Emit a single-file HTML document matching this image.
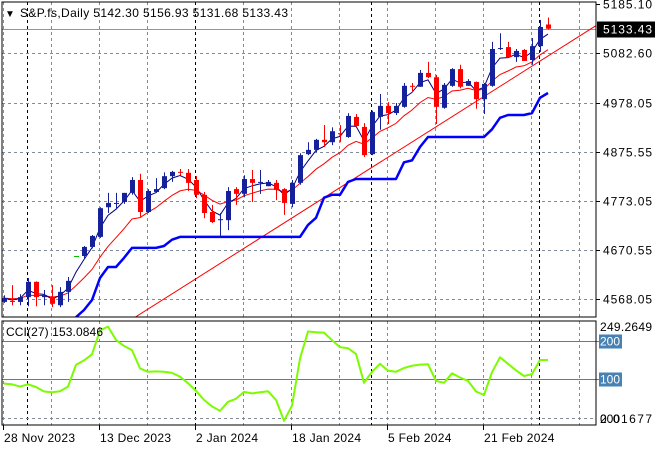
<!DOCTYPE html>
<html><head><meta charset="utf-8"><style>
html,body{margin:0;padding:0;background:#fff;}
svg{display:block;font-family:"Liberation Sans",sans-serif;font-size:12px;}
</style></head><body>
<svg id="chart" width="660" height="450" viewBox="0 0 660 450" xmlns="http://www.w3.org/2000/svg">
<rect x="0" y="0" width="660" height="450" fill="#fff"/>
<defs>
<clipPath id="mainClip"><rect x="2" y="2" width="594" height="315"/></clipPath>
<clipPath id="cciClip"><rect x="2" y="321" width="594" height="104"/></clipPath>
</defs>
<g id="grid"></g>
<g id="main" clip-path="url(#mainClip)"></g>
<g id="cci" clip-path="url(#cciClip)"></g>
<g id="axes"></g>
<rect x="2" y="2" width="594" height="315" fill="none" stroke="#000" stroke-width="1"/>
<rect x="2" y="321" width="594" height="104" fill="none" stroke="#000" stroke-width="1"/>
<text x="5" y="17" font-size="10">▼</text>
<text x="20" y="17" textLength="268" lengthAdjust="spacing">S&amp;P.fs,Daily  5142.30 5156.93 5131.68 5133.43</text>
<text x="6" y="336" textLength="97" lengthAdjust="spacing">CCI(27) 153.0846</text>
</svg>
<script>
const opens  = [4562,4564,4562,4572,4604,4572,4572,4555,4583,4658,4658,4677,4698,4760,4767,4771,4790,4817,4750,4792,4800,4825,4834,4832,4817,4786,4750,4733,4733,4798,4788,4819,4811,4804,4811,4798,4767,4811,4871,4880,4901,4896,4915,4907,4949,4928,4871,4949,4972,4957,4970,5014,5012,5041,5032,4968,5014,5049,5014,5022,4986,5014,5091,5095,5074,5089,5068,5097,5142.30];
const highs  = [4576,4597,4578,4612,4605,4587,4597,4593,4614,4658,4679,4702,4760,4790,4790,4790,4823,4830,4798,4821,4833,4836,4840,4840,4825,4792,4765,4748,4802,4802,4827,4838,4838,4817,4817,4800,4817,4873,4896,4903,4932,4927,4932,4957,4955,4936,4962,4997,4980,4978,5020,5020,5047,5064,5037,5020,5051,5058,5028,5023,5020,5106,5124,5106,5091,5091,5114,5152,5156.93];
const lows   = [4560,4555,4555,4553,4553,4555,4551,4551,4562,4658,4652,4674,4696,4748,4756,4767,4786,4740,4748,4790,4798,4813,4827,4794,4779,4737,4727,4698,4712,4765,4781,4771,4788,4804,4775,4744,4760,4807,4869,4875,4886,4890,4896,4905,4928,4865,4869,4922,4934,4953,4968,5001,5012,5030,4934,4966,5012,5009,5014,4966,4955,5012,5089,5074,5064,5066,5058,5085,5131.68];
const closes = [4570,4562,4572,4604,4572,4576,4558,4583,4606,4658,4677,4700,4758,4769,4769,4790,4817,4750,4794,4798,4825,4834,4832,4811,4786,4748,4729,4735,4794,4788,4819,4811,4813,4813,4796,4769,4811,4869,4880,4901,4896,4919,4913,4951,4930,4869,4959,4972,4957,4972,5014,5012,5041,5032,4970,5016,5049,5012,5024,4986,5018,5091,5093,5074,5087,5066,5097,5137,5133.43];
const stopLine = [null,null,null,null,null,null,null,null,null,4530,4545,4566,4612,4635,4635,4654,4675,4675,4675,4675,4679,4692,4698,4698,4698,4698,4698,4698,4698,4698,4698,4698,4698,4698,4698,4698,4698,4698,4723,4738,4780,4786,4786,4813,4819,4819,4819,4819,4819,4819,4854,4858,4886,4907,4907,4907,4907,4907,4907,4907,4907,4923,4947,4953,4953,4953,4957,4989,4999];
const trendIdx = [16.4, 74.1];
const trendVal = [4530, 5141];
const cciVals = [88,86,80,86,79,67,65,68,80,137,149,165,228,238,203,187,176,128,119,120,119,116,106,89,69,45,28,16,40,48,66,62,65,68,45,-10,30,154,225,223,222,202,184,181,166,90,119,140,122,119,129,135,138,139,95,90,115,104,95,67,58,118,157,140,123,108,113,150,150];
const priceTicks = [5185.10,5082.60,4978.05,4875.55,4773.05,4670.55,4568.05];
const priceTickLabels = ["5185.10","5082.60","4978.05","4875.55","4773.05","4670.55","4568.05"];
const lastPrice = 5133.43;
const cciLevels = [200,100];
const dateLabels = ["28 Nov 2023","13 Dec 2023","2 Jan 2024","18 Jan 2024","5 Feb 2024","21 Feb 2024"];
const dateIdx = [0,12,24,36,48,60];
const sepIdx = [3,24,46,67];

const NS = "http://www.w3.org/2000/svg";
function xOf(i){ return 4 + 8*i; }
function yOf(p){ return 299 - (p-4568.05)*49/102.5; }
function yC(v){ return 417 - v*0.38; }
function mk(tag, attrs, parent){ const e=document.createElementNS(NS,tag); for(const k in attrs) e.setAttribute(k,attrs[k]); parent.appendChild(e); return e; }

const grid=document.getElementById('grid'), main=document.getElementById('main'), cci=document.getElementById('cci'), axes=document.getElementById('axes');

for(let i=0;i<13;i++){
  const x=3+48*i+0.5;
  let l=mk('line',{x1:x,y1:2,x2:x,y2:317,stroke:'#7f8c9a','stroke-dasharray':'3,3'},grid);
  
  
  l=mk('line',{x1:x,y1:321,x2:x,y2:425,stroke:'#7f8c9a','stroke-dasharray':'3,3'},grid);
  
  
}
sepIdx.forEach(i=>{
  const x=xOf(i)-1+0.5;
  let l=mk('line',{x1:x,y1:2,x2:x,y2:317,stroke:'#000','stroke-dasharray':'3,3'},grid);
  
  
  l=mk('line',{x1:x,y1:321,x2:x,y2:425,stroke:'#000','stroke-dasharray':'3,3'},grid);
  
  
});
priceTicks.forEach((p,k)=>{
  const y=Math.round(yOf(p))+0.5;
  if(k>0){
    const l=mk('line',{x1:2,y1:y,x2:596,y2:y,stroke:'#7f8c9a','stroke-dasharray':'3,3'},grid);
    
    
  }
  const t=mk('line',{x1:596,y1:y,x2:600,y2:y,stroke:'#000'},axes);
  
  
  const tx=mk('text',{x:603,y:y+4,textLength:49,lengthAdjust:'spacing'},axes);
  tx.textContent=priceTickLabels[k];
  
  
});
{
  const y=Math.round(yOf(lastPrice))+0.5;
  const l=mk('line',{x1:2,y1:y,x2:596,y2:y,stroke:'#8a96a2'},grid);
  
  
  const r=mk('rect',{x:597,y:y-8,width:58,height:16,fill:'#000'},axes);
  
  
  const t=mk('text',{x:603,y:y+4,fill:'#fff',textLength:49,lengthAdjust:'spacing'},axes);
  t.textContent=lastPrice.toFixed(2);
  
  
}
{
  const l=mk('line',{x1:xOf(trendIdx[0]),y1:yOf(trendVal[0]),x2:xOf(trendIdx[1]),y2:yOf(trendVal[1]),stroke:'#ff0000','stroke-width':1},main);
  
  
}
function ema(arr,n){ const a=2/(n+1); let out=[],v=arr[0]; arr.forEach((c,i)=>{ v = i===0?c:v+a*(c-v); out.push(v); }); return out; }
const fast=ema(closes,3), slow=ema(closes,9);
{
  let p=mk('polyline',{points:slow.map((v,i)=>xOf(i)+','+yOf(v).toFixed(1)).join(' '),fill:'none',stroke:'#ff0000','stroke-width':1},main);
  
  
  p=mk('polyline',{points:fast.map((v,i)=>xOf(i)+','+yOf(v).toFixed(1)).join(' '),fill:'none',stroke:'#000080','stroke-width':1},main);
  
  
  const pts=[]; stopLine.forEach((v,i)=>{ if(v!==null) pts.push(xOf(i)+','+yOf(v).toFixed(1)); });
  p=mk('polyline',{points:pts.join(' '),fill:'none',stroke:'#0000ff','stroke-width':2.5,'stroke-linejoin':'round'},main);
  
  
}
closes.forEach((c,i)=>{
  const o=opens[i], x=xOf(i);
  const col = c>o ? '#14219a' : (c<o ? '#ff0000' : '#00c000');
  const w=mk('line',{x1:x+0.5,y1:yOf(highs[i]),x2:x+0.5,y2:yOf(lows[i]),stroke:col,'stroke-width':1},main);
  
  
  const top=Math.min(yOf(o),yOf(c)), h=Math.max(1,Math.abs(yOf(o)-yOf(c)));
  const b=mk('rect',{x:x-2,y:top,width:5,height:h,fill:col},main);
  
  
});
cciLevels.forEach(v=>{
  const y=Math.round(yC(v))+0.5;
  const l=mk('line',{x1:2,y1:y,x2:596,y2:y,stroke:'#4682b4'},cci);
  
  
  const t=mk('line',{x1:596,y1:y,x2:600,y2:y,stroke:'#4682b4'},axes);
  
  
  const r=mk('rect',{x:599,y:y-7,width:23,height:14,fill:'#4682b4'},axes);
  
  
  const tx=mk('text',{x:600,y:y+4,fill:'#fff',textLength:20,lengthAdjust:'spacing'},axes);
  tx.textContent=String(v);
  
  
});
{
  const l=mk('line',{x1:2,y1:418.5,x2:596,y2:418.5,stroke:'#7f8c9a','stroke-dasharray':'3,3'},cci);
  
  
  let t=mk('text',{x:600,y:331,textLength:52,lengthAdjust:'spacing'},axes); t.textContent='249.2649';
  
  
  t=mk('text',{x:600,y:423,textLength:52,lengthAdjust:'spacing'},axes); t.textContent='0.01677';
  
  
  t=mk('text',{x:600,y:423},axes); t.textContent='200';
  
  
  const p=mk('polyline',{points:cciVals.map((v,i)=>xOf(i)+','+yC(v).toFixed(1)).join(' '),fill:'none',stroke:'#7cfc00','stroke-width':2,'stroke-linejoin':'round'},cci);
  
  
}
dateLabels.forEach((d,k)=>{
  const x=xOf(dateIdx[k])-1;
  const t=mk('line',{x1:x+0.5,y1:425,x2:x+0.5,y2:430,stroke:'#000'},axes);
  
  
  const tx=mk('text',{x:x+1,y:442,'letter-spacing':'0.3'},axes);
  tx.textContent=d;
  
  
});
</script>
</body></html>
